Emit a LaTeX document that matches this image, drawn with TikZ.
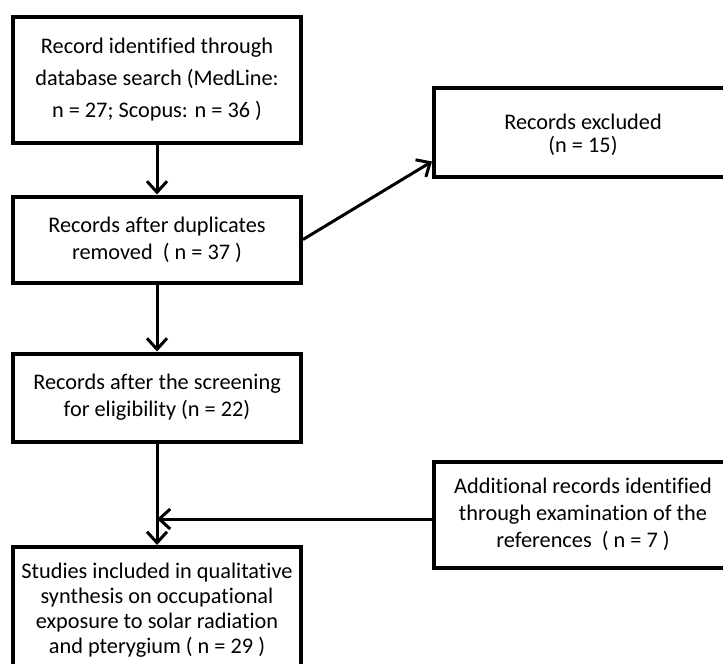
\documentclass[tikz,border=0pt]{standalone}
\usepackage{fontspec}
\setmainfont[Ligatures=NoCommon]{Carlito}
\usepackage{tikz}
\usetikzlibrary{arrows.meta,calc,positioning}

\begin{document}
\begin{tikzpicture}[
		x=1bp, y=-1bp,
		boite/.style={draw, line width=4bp, align=center, inner sep=0pt, font=\fontsize{22.3bp}{27bp}\selectfont},
		gauche/.style={boite, minimum width=288bp},
		droite/.style={boite, minimum width=298bp},
		fleche/.style={draw, line width=3bp, -{Straight Barb[length=11bp,width=20bp]}}
		]
		\useasboundingbox (0,0) rectangle (723,664);
		
		% Les boites
		\node[gauche, minimum height=126bp] (search) at (157,80) {Record identified through\\[5bp] database search (MedLine:\\[5bp] n = 27; Scopus: n = 36 )};
		\node[gauche, minimum height=86bp] (dedup) at (157,239.5) {Records after duplicates\\ removed \ ( n = 37 )};
		\node[gauche, minimum height=88bp] (screen) at (157,397.5) {Records after the screening\\ for eligibility (n = 22)};
		\node[gauche, minimum height=126bp, font=\fontsize{22.3bp}{25bp}\selectfont] (incl) at (157,610) {Studies included in qualitative\\ synthesis on occupational\\ exposure to solar radiation\\ and pterygium ( n = 29 )};
		\node[droite, minimum height=88bp, font=\fontsize{22.3bp}{23bp}\selectfont, text height=43bp] (excl) at (583,132.5) {Records excluded\\ (n = 15)};
		\node[droite, minimum height=106bp] (addl) at (583,514.5) {Additional records identified\\ through examination of the\\ references \ ( n = 7 )};
		
		% Les fleches
		\coordinate (entree) at ($(excl.west)+(0,29)$);
		\coordinate (jonction) at ($(addl.west)+(0,4.5)$);
		\draw[fleche] (search) -- (dedup);
		\draw[fleche] (dedup) -- (screen);
		\draw[fleche] (screen) -- (incl);
		\draw[fleche] (dedup.east) -- (entree);
		\draw[fleche] (jonction) -- (jonction -| incl.north);
	\end{tikzpicture}
\end{document}
